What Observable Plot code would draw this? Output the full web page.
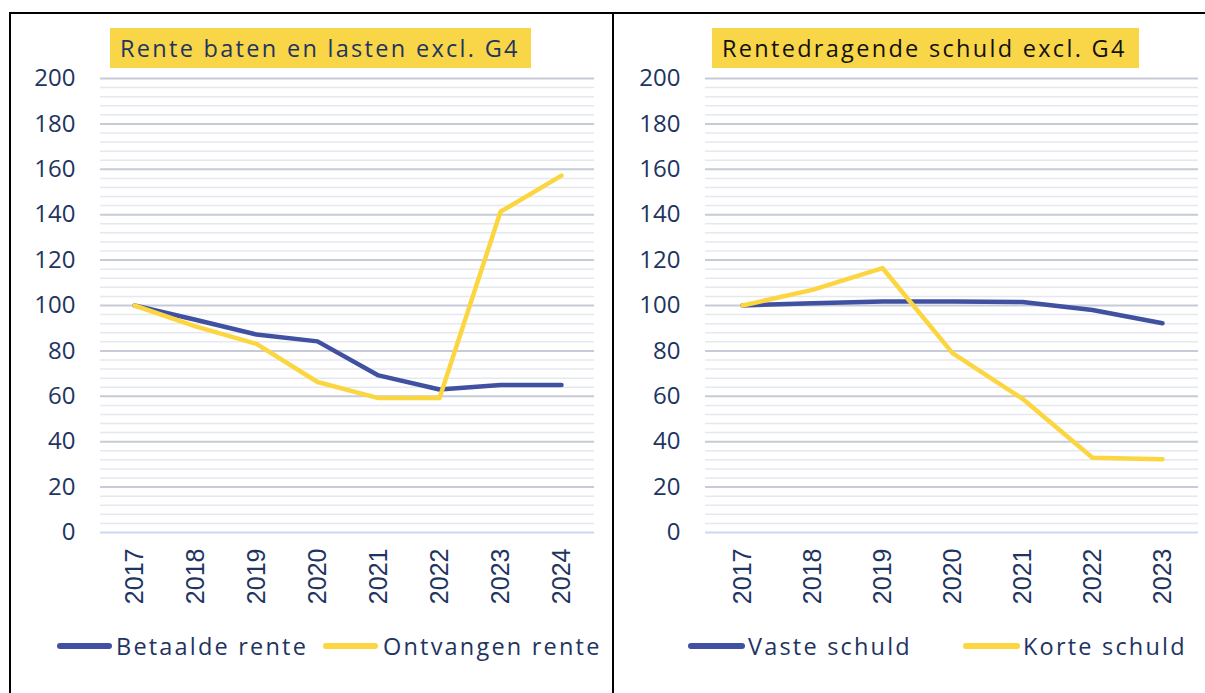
<!DOCTYPE html>
<html>
<head>
<meta charset="utf-8">
<script src="https://cdn.jsdelivr.net/npm/d3@7"></script>
<script src="https://cdn.jsdelivr.net/npm/@observablehq/plot@0.6"></script>
<style>
  html, body { margin: 0; padding: 0; background: #fff; }
  #page { position: relative; width: 1205px; height: 693px; overflow: hidden; font-family: "Open Sans", sans-serif; }
  .border { position: absolute; background: #000; }
  .title { position: absolute; top: 28px; height: 40px; background: #f9d648; font-size: 23.5px; letter-spacing: 2.3px; line-height: 40px; padding-left: 10px; box-sizing: border-box; white-space: nowrap; }
  .panel { position: absolute; top: 0; }
  .legend { position: absolute; top: 630px; height: 32px; font-size: 23.5px; letter-spacing: 2.2px; color: #1e3461; white-space: nowrap; }
  .sw { position: absolute; top: 13px; height: 6px; border-radius: 3px; }
  .lt { position: absolute; top: 0; line-height: 32px; }
</style>
</head>
<body>
<div id="page">
  <div class="border" style="left:9px; top:12px; width:1196px; height:2px;"></div>
  <div class="border" style="left:9px; top:12px; width:2px; height:681px;"></div>
  <div class="border" style="left:612px; top:12px; width:2px; height:681px;"></div>
  <div id="p1" class="panel" style="left:0px;"></div>
  <div id="p2" class="panel" style="left:613px;"></div>
  <div class="title" style="left:110px; width:421px; color:#1e3461;">Rente baten en lasten excl. G4</div>
  <div class="title" style="left:712px; width:427px; color:#111;">Rentedragende schuld excl. G4</div>
  <div class="legend" style="left:0; width:612px;">
    <div class="sw" style="left:57px; width:55px; background:#3f51a0;"></div>
    <div class="lt" style="left:116px;">Betaalde rente</div>
    <div class="sw" style="left:323px; width:55px; background:#fbd641;"></div>
    <div class="lt" style="left:383px;">Ontvangen rente</div>
  </div>
  <div class="legend" style="left:613px; width:592px;">
    <div class="sw" style="left:75px; width:57px; background:#3f51a0;"></div>
    <div class="lt" style="left:135px;">Vaste schuld</div>
    <div class="sw" style="left:350px; width:57px; background:#fbd641;"></div>
    <div class="lt" style="left:410px;">Korte schuld</div>
  </div>
</div>
<script>
// ---- Data ----
const years1 = ["2017", "2018", "2019", "2020", "2021", "2022", "2023", "2024"];
const betaaldeRente = [100, 93.7, 87.2, 84.2, 69.2, 63, 65, 65];
const ontvangenRente = [100, 90.8, 83.1, 66.3, 59.2, 59.2, 141.3, 157.2];

const years2 = ["2017", "2018", "2019", "2020", "2021", "2022", "2023"];
const vasteSchuld = [100, 101, 101.8, 101.8, 101.5, 98, 92.2];
const korteSchuld = [100, 106.9, 116.5, 79, 58.9, 32.9, 32.3];

const yTicks = [0, 20, 40, 60, 80, 100, 120, 140, 160, 180, 200];

// ---- Styles ----
const BLUE = "#3f51a0";
const YELLOW = "#fbd641";
const TEXT = "#1e3461";

function panel(years, s1, s2, width, marginLeft, marginRight) {
  const d1 = years.map((y, i) => ({year: y, value: s1[i]}));
  const d2 = years.map((y, i) => ({year: y, value: s2[i]}));
  const minor = d3.range(4, 201, 4).filter(v => v % 20 !== 0);
  const major = yTicks.filter(v => v !== 0);
  return Plot.plot({
    width, height: 620,
    marginLeft, marginRight, marginTop: 78, marginBottom: 88,
    style: {fontFamily: "'Open Sans', sans-serif", fontSize: "24px", color: TEXT, background: "transparent", overflow: "visible"},
    x: {type: "point", domain: years, padding: 0.5},
    y: {domain: [0, 200]},
    marks: [
      Plot.ruleY(minor, {stroke: "#e6e8ef", strokeWidth: 1.5}),
      Plot.ruleY(major, {stroke: "#c6cbd7", strokeWidth: 2}),
      Plot.ruleY([0], {stroke: "#cbd9f1", strokeWidth: 2}),
      Plot.axisY({ticks: yTicks, tickSize: 0, tickPadding: 25, label: null, style: "letter-spacing: 1.5px"}),
      Plot.axisX({tickSize: 0, tickPadding: 16, tickRotate: -90, label: null, fontFamily: "'Liberation Sans', Arial, sans-serif", fontSize: 25}),
      Plot.line(d1, {x: "year", y: "value", stroke: BLUE, strokeWidth: 4.5, strokeLinecap: "round", strokeLinejoin: "round"}),
      Plot.line(d2, {x: "year", y: "value", stroke: YELLOW, strokeWidth: 4.5, strokeLinecap: "round", strokeLinejoin: "round"})
    ]
  });
}

document.getElementById("p1").appendChild(panel(years1, betaaldeRente, ontvangenRente, 612, 100, 18));
document.getElementById("p2").appendChild(panel(years2, vasteSchuld, korteSchuld, 592, 92, 7));
</script>
</body>
</html>
